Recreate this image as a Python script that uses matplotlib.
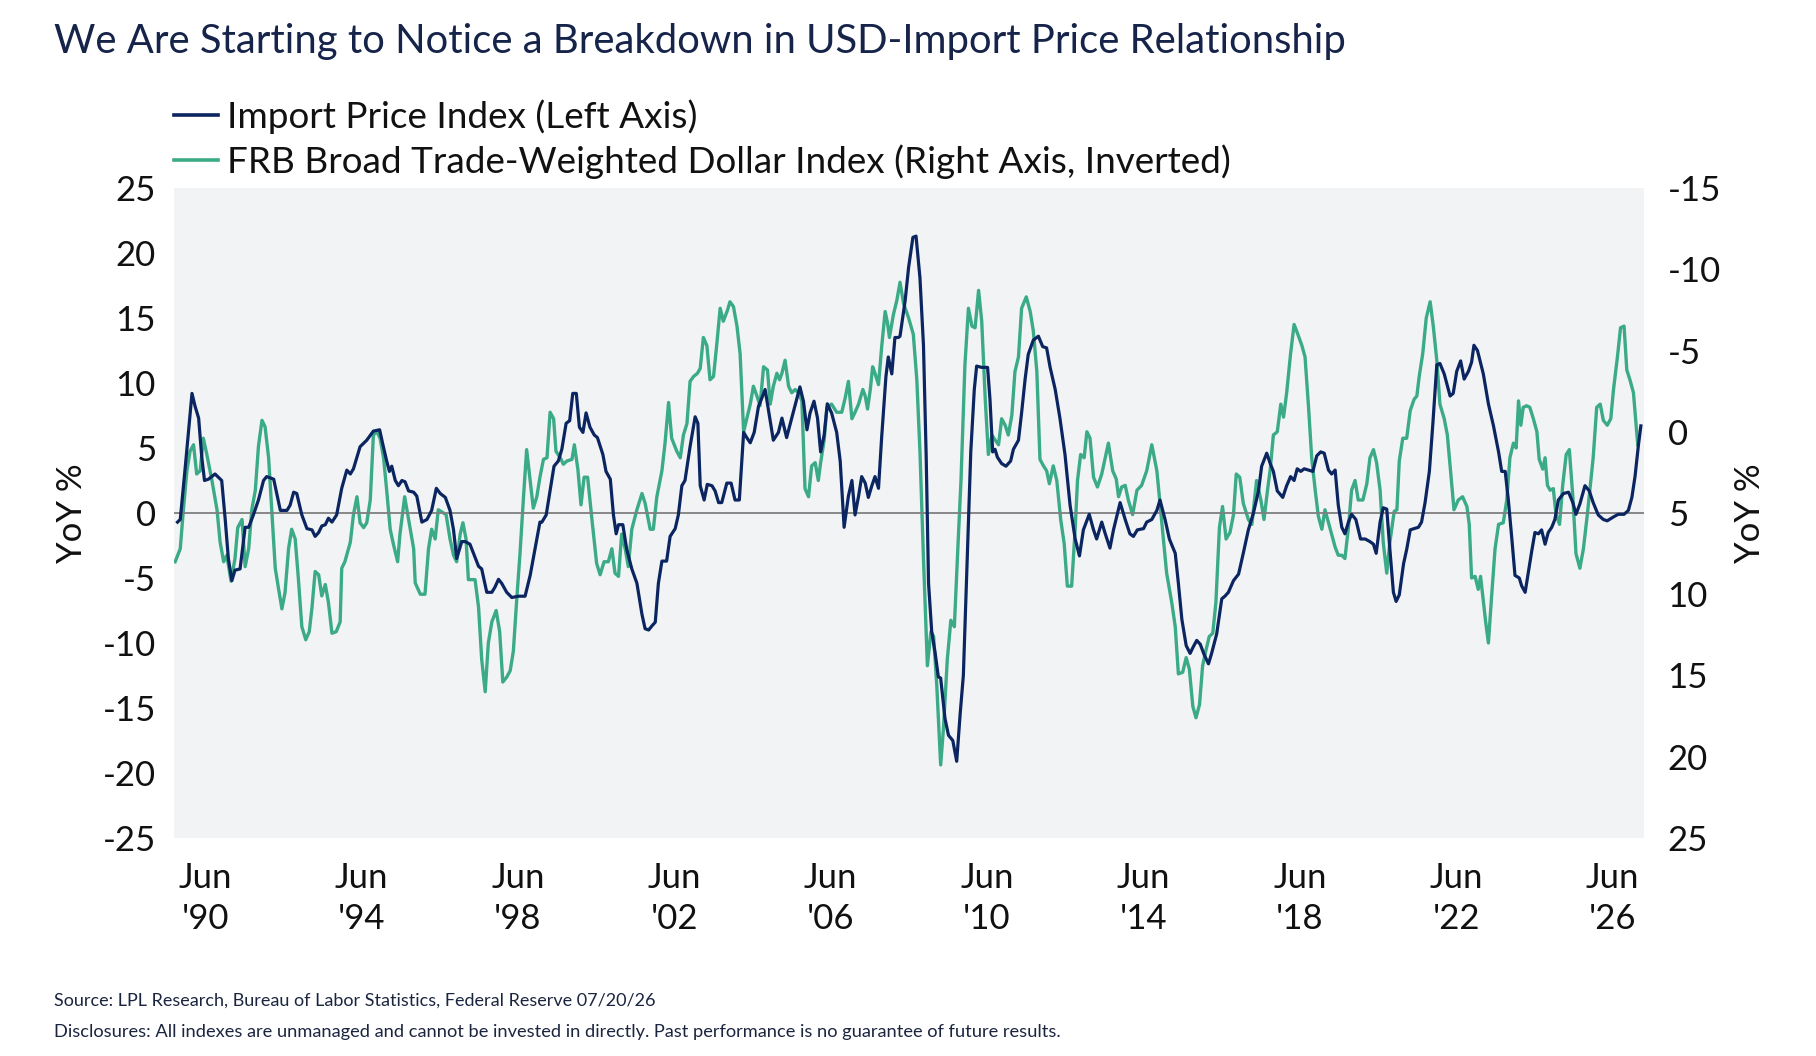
import matplotlib
matplotlib.use("Agg")
import matplotlib.pyplot as plt
from matplotlib.lines import Line2D

# ---------------- data ----------------
ipi_year = [
    1989.71, 1989.78, 1989.91, 1990.08, 1990.16, 1990.25, 1990.33, 1990.40, 1990.50, 1990.67,
    1990.84, 1990.93, 1991.01, 1991.10, 1991.18, 1991.31, 1991.44, 1991.53, 1991.65, 1991.78,
    1991.91, 1991.99, 1992.17, 1992.34, 1992.51, 1992.59, 1992.68, 1992.76, 1992.89, 1993.02,
    1993.15, 1993.23, 1993.32, 1993.40, 1993.49, 1993.57, 1993.66, 1993.78, 1993.91, 1994.04,
    1994.13, 1994.21, 1994.38, 1994.55, 1994.72, 1994.88, 1994.96, 1995.06, 1995.13, 1995.19,
    1995.28, 1995.36, 1995.45, 1995.53, 1995.62, 1995.75, 1995.83, 1995.96, 1996.09, 1996.21,
    1996.33, 1996.43, 1996.56, 1996.68, 1996.77, 1996.85, 1996.98, 1997.07, 1997.19, 1997.28,
    1997.41, 1997.49, 1997.62, 1997.75, 1997.83, 1997.92, 1998.00, 1998.13, 1998.26, 1998.43,
    1998.60, 1998.73, 1998.90, 1998.98,
    1999.03, 1999.14, 1999.24, 1999.34, 1999.45, 1999.54, 1999.65, 1999.74, 1999.82, 1999.91,
    1999.99, 2000.08, 2000.16, 2000.26, 2000.37, 2000.45, 2000.59, 2000.67, 2000.78, 2000.86,
    2000.93, 2000.99, 2001.10, 2001.20, 2001.33, 2001.46, 2001.59, 2001.67, 2001.76, 2001.84,
    2001.93, 2002.01, 2002.10, 2002.22, 2002.31, 2002.44, 2002.52, 2002.61, 2002.69, 2002.82,
    2002.95, 2003.02, 2003.08, 2003.18, 2003.26, 2003.38, 2003.46, 2003.55, 2003.63, 2003.76,
    2003.87, 2003.97, 2004.08, 2004.19, 2004.27, 2004.36, 2004.46, 2004.57, 2004.65, 2004.74,
    2004.80, 2004.88, 2004.95, 2005.08, 2005.17, 2005.29, 2005.42, 2005.55, 2005.63, 2005.72,
    2005.81, 2005.89, 2005.99, 2006.08, 2006.16, 2006.25, 2006.33, 2006.44, 2006.57, 2006.66,
    2006.76, 2006.87, 2006.96, 2007.04, 2007.13, 2007.21, 2007.30, 2007.38, 2007.47, 2007.55,
    2007.64, 2007.72, 2007.83, 2007.89, 2007.98, 2008.06, 2008.15,
    2008.19, 2008.32, 2008.41, 2008.52, 2008.60, 2008.70, 2008.79, 2008.86, 2008.92, 2009.00,
    2009.09, 2009.17, 2009.23, 2009.34, 2009.43, 2009.54, 2009.64, 2009.73, 2009.81, 2009.90,
    2010.00, 2010.09, 2010.15, 2010.28, 2010.43, 2010.49, 2010.56, 2010.62, 2010.68, 2010.79,
    2010.90, 2011.02, 2011.09, 2011.22, 2011.30, 2011.39, 2011.47, 2011.60, 2011.73, 2011.84,
    2011.94, 2012.03, 2012.16, 2012.28, 2012.41, 2012.54, 2012.67, 2012.78, 2012.88, 2013.03,
    2013.14, 2013.22, 2013.35, 2013.44, 2013.56, 2013.65, 2013.73, 2013.82, 2013.95, 2014.07,
    2014.16, 2014.26, 2014.42, 2014.50, 2014.63, 2014.76, 2014.84, 2014.97, 2015.08, 2015.23,
    2015.31, 2015.40, 2015.51, 2015.61, 2015.69, 2015.78, 2015.87, 2015.97, 2016.08, 2016.16,
    2016.29, 2016.42, 2016.50, 2016.59, 2016.72, 2016.85, 2016.97, 2017.10, 2017.23, 2017.36,
    2017.44, 2017.57,
    2017.66, 2017.74, 2017.84, 2017.98, 2018.08, 2018.18, 2018.27, 2018.35, 2018.44, 2018.53,
    2018.64, 2018.75, 2018.85, 2018.95, 2019.04, 2019.15, 2019.23, 2019.32, 2019.40, 2019.49,
    2019.57, 2019.66, 2019.74, 2019.85, 2019.97, 2020.09, 2020.21, 2020.30, 2020.37, 2020.47,
    2020.55, 2020.64, 2020.72, 2020.81, 2020.88, 2020.96, 2021.07, 2021.15, 2021.24, 2021.34,
    2021.45, 2021.53, 2021.62, 2021.73, 2021.82, 2021.92, 2022.00, 2022.11, 2022.26, 2022.34,
    2022.43, 2022.53, 2022.62, 2022.73, 2022.81, 2022.87, 2022.96, 2023.11, 2023.24, 2023.37,
    2023.50, 2023.58, 2023.67, 2023.75, 2023.84, 2023.92, 2024.03, 2024.09, 2024.18, 2024.26,
    2024.35, 2024.43, 2024.52, 2024.60, 2024.69, 2024.77, 2024.86, 2024.94, 2025.03, 2025.16,
    2025.29, 2025.40, 2025.48, 2025.58, 2025.71, 2025.82, 2025.92, 2026.05, 2026.18, 2026.28,
    2026.44, 2026.56, 2026.71, 2026.82, 2026.91, 2026.99, 2027.08, 2027.14,
]
ipi_yoy = [
    -0.7, -0.5, 3.6, 9.2, 8.2, 7.3, 4.3, 2.5, 2.6, 3.0,
    2.5, -0.5, -3.5, -5.2, -4.4, -4.3, -1.1, -1.1, -0.15, 1.0,
    2.5, 2.8, 2.6, 0.2, 0.2, 0.6, 1.6, 1.5, -0.15, -1.2,
    -1.3, -1.8, -1.5, -1.0, -0.9, -0.4, -0.7, -0.15, 1.9, 3.3,
    3.0, 3.4, 5.1, 5.6, 6.3, 6.4, 5.3, 4.0, 3.2, 3.6,
    2.5, 2.1, 2.5, 2.4, 1.7, 1.6, 1.3, -0.7, -0.5, 0.2,
    1.9, 1.5, 1.2, 0.2, -1.3, -3.5, -2.2, -2.2, -2.4, -3.1,
    -4.1, -4.3, -6.1, -6.1, -5.7, -5.1, -5.4, -6.1, -6.5, -6.4,
    -6.4, -4.8, -2.0, -0.7,
    -0.7, -0.15, 1.7, 3.6, 4.0, 4.9, 6.9, 7.1, 9.2, 9.2,
    6.6, 6.2, 7.7, 6.6, 6.0, 5.8, 4.5, 3.2, 2.6, -0.15,
    -1.6, -0.9, -0.9, -2.8, -4.3, -5.4, -7.8, -8.9, -9.0, -8.7,
    -8.4, -5.4, -3.7, -3.7, -1.8, -1.2, -0.15, 2.1, 2.5, 5.1,
    7.4, 6.9, 2.1, 1.0, 2.2, 2.1, 1.7, 0.8, 0.8, 2.3,
    2.3, 1.0, 1.0, 6.2, 5.8, 5.4, 6.2, 8.2, 8.8, 9.5,
    8.4, 6.9, 5.6, 6.2, 7.3, 5.8, 7.3, 8.8, 9.7, 8.6,
    6.4, 7.7, 8.6, 7.3, 4.7, 6.0, 8.4, 7.7, 6.2, 4.0,
    -1.1, 1.3, 2.5, -0.15, 1.3, 2.8, 2.3, 1.2, 2.1, 2.8,
    1.9, 5.8, 10.5, 12.0, 10.7, 13.5, 13.5,
    13.6, 16.3, 18.9, 21.2, 21.3, 18.1, 12.9, 4.3, -5.4, -9.1,
    -10.8, -12.6, -12.7, -15.8, -17.1, -17.5, -19.1, -15.4, -12.5, -4.3,
    4.7, 9.5, 11.3, 11.2, 11.2, 8.8, 4.7, 4.9, 4.3, 3.8,
    3.6, 4.0, 4.9, 5.6, 7.7, 10.3, 12.2, 13.3, 13.6, 12.8,
    12.7, 11.2, 9.5, 7.3, 4.5, 0.6, -2.0, -3.3, -1.3, -0.1,
    -1.3, -2.0, -0.7, -1.6, -2.7, -1.3, -0.3, 0.8, -0.5, -1.6,
    -1.8, -1.3, -1.2, -0.7, -0.5, 0.2, 1.0, -0.5, -2.0, -3.1,
    -5.4, -8.2, -10.2, -10.8, -10.3, -9.8, -10.1, -10.9, -11.6, -10.8,
    -9.3, -6.6, -6.4, -6.1, -5.2, -4.7, -3.1, -1.3, 0.0, 1.7,
    3.6, 4.6,
    3.8, 3.2, 1.7, 1.2, 2.1, 2.8, 2.5, 3.4, 3.2, 3.4,
    3.3, 3.2, 4.4, 4.7, 4.6, 3.3, 3.0, 3.3, 0.6, -1.1,
    -1.6, -0.7, -0.1, -0.5, -2.0, -2.0, -2.2, -2.4, -3.1, -0.7,
    0.4, 0.3, -2.8, -6.1, -6.8, -6.3, -3.9, -2.8, -1.3, -1.2,
    -1.1, -0.7, 0.8, 3.2, 6.9, 11.4, 11.5, 10.7, 9.0, 9.2,
    10.9, 11.7, 10.3, 10.9, 11.6, 12.9, 12.5, 10.7, 8.4, 6.7,
    4.7, 3.2, 3.2, 1.0, -2.0, -4.8, -5.0, -5.6, -6.1, -4.6,
    -2.9, -1.5, -1.6, -1.3, -2.4, -1.5, -1.1, -0.5, 1.0, 1.5,
    1.6, 0.8, -0.1, 0.7, 2.1, 1.7, 0.8, -0.15, -0.5, -0.6,
    -0.3, -0.1, -0.1, 0.2, 1.2, 2.8, 5.3, 6.7,
]

usd_year = [
    1989.65, 1989.78, 1989.86, 1989.95, 1990.03, 1990.12, 1990.20, 1990.29, 1990.37, 1990.46,
    1990.59, 1990.72, 1990.80, 1990.89, 1990.97, 1991.08, 1991.18, 1991.25, 1991.36, 1991.44,
    1991.53, 1991.61, 1991.70, 1991.78, 1991.87, 1991.95, 1992.04, 1992.12, 1992.21, 1992.29,
    1992.38, 1992.46, 1992.55, 1992.63, 1992.72, 1992.80, 1992.89, 1992.99, 1993.08, 1993.15,
    1993.23, 1993.32, 1993.40, 1993.49, 1993.57, 1993.66, 1993.77, 1993.87, 1993.91, 1993.99,
    1994.13, 1994.21, 1994.30, 1994.38, 1994.47, 1994.55, 1994.64, 1994.72, 1994.81, 1994.89,
    1994.98, 1995.06, 1995.15, 1995.23, 1995.34, 1995.40, 1995.52, 1995.62, 1995.75, 1995.79,
    1995.92, 1996.04, 1996.13, 1996.21, 1996.30, 1996.38, 1996.51, 1996.58, 1996.68, 1996.77,
    1996.85, 1996.94, 1997.01, 1997.09, 1997.15, 1997.32, 1997.41, 1997.49, 1997.58, 1997.66,
    1997.75, 1997.86, 1997.95, 1998.03, 1998.13, 1998.22, 1998.30, 1998.39, 1998.47, 1998.56,
    1998.64, 1998.73, 1998.81, 1998.90, 1998.98,
    1999.07, 1999.16, 1999.24, 1999.33, 1999.39, 1999.50, 1999.58, 1999.67, 1999.80, 1999.86,
    1999.95, 2000.03, 2000.11, 2000.20, 2000.31, 2000.43, 2000.52, 2000.62, 2000.73, 2000.82,
    2000.90, 2000.99, 2001.07, 2001.16, 2001.24, 2001.33, 2001.46, 2001.59, 2001.67, 2001.80,
    2001.88, 2001.97, 2002.10, 2002.18, 2002.27, 2002.35, 2002.48, 2002.57, 2002.65, 2002.74,
    2002.82, 2002.91, 2003.01, 2003.08, 2003.16, 2003.25, 2003.33, 2003.42, 2003.50, 2003.59,
    2003.67, 2003.78, 2003.84, 2003.93, 2004.02, 2004.10, 2004.19, 2004.27, 2004.36, 2004.44,
    2004.53, 2004.61, 2004.70, 2004.80, 2004.87, 2004.95, 2005.04, 2005.11, 2005.17, 2005.25,
    2005.34, 2005.42, 2005.51, 2005.59, 2005.68, 2005.76, 2005.85, 2005.93, 2006.02, 2006.10,
    2006.16, 2006.25, 2006.32, 2006.44, 2006.57, 2006.70, 2006.79, 2006.87, 2006.96, 2007.04,
    2007.13, 2007.24, 2007.30, 2007.36, 2007.43, 2007.49, 2007.55, 2007.64, 2007.72, 2007.81,
    2007.87, 2007.92, 2008.02, 2008.11, 2008.19,
    2008.28, 2008.41, 2008.53, 2008.62, 2008.70, 2008.79, 2008.89, 2008.98, 2009.05, 2009.13,
    2009.23, 2009.30, 2009.40, 2009.49, 2009.58, 2009.68, 2009.75, 2009.85, 2009.94, 2010.03,
    2010.11, 2010.20, 2010.28, 2010.37, 2010.45, 2010.54, 2010.62, 2010.71, 2010.79, 2010.88,
    2010.96, 2011.05, 2011.13, 2011.22, 2011.30, 2011.42, 2011.52, 2011.60, 2011.69, 2011.77,
    2011.86, 2011.94, 2012.01, 2012.11, 2012.20, 2012.30, 2012.39, 2012.47, 2012.58, 2012.67,
    2012.73, 2012.81, 2012.90, 2012.97, 2013.05, 2013.14, 2013.24, 2013.35, 2013.52, 2013.63,
    2013.72, 2013.78, 2013.86, 2013.95, 2014.03, 2014.14, 2014.25, 2014.37, 2014.50, 2014.63,
    2014.76, 2014.88, 2015.01, 2015.14, 2015.23, 2015.31, 2015.42, 2015.51, 2015.59, 2015.68,
    2015.76, 2015.85, 2015.93, 2016.02, 2016.10, 2016.19, 2016.27, 2016.36, 2016.44, 2016.53,
    2016.63, 2016.72, 2016.79, 2016.88, 2016.97, 2017.10, 2017.19, 2017.31, 2017.42, 2017.50,
    2017.59,
    2017.66, 2017.74, 2017.84, 2017.93, 2018.00, 2018.08, 2018.18, 2018.27, 2018.35, 2018.47,
    2018.55, 2018.64, 2018.72, 2018.81, 2018.89, 2018.98, 2019.06, 2019.15, 2019.23, 2019.32,
    2019.40, 2019.49, 2019.57, 2019.66, 2019.74, 2019.83, 2019.91, 2020.03, 2020.13, 2020.21,
    2020.30, 2020.38, 2020.47, 2020.55, 2020.64, 2020.72, 2020.83, 2020.90, 2020.96, 2021.05,
    2021.15, 2021.24, 2021.34, 2021.41, 2021.47, 2021.56, 2021.65, 2021.75, 2021.83, 2021.92,
    2022.00, 2022.11, 2022.19, 2022.26, 2022.36, 2022.47, 2022.58, 2022.69, 2022.75, 2022.81,
    2022.90, 2022.98, 2023.04, 2023.11, 2023.17, 2023.24, 2023.32, 2023.41, 2023.50, 2023.62,
    2023.71, 2023.79, 2023.88, 2023.95, 2024.01, 2024.07, 2024.13, 2024.22, 2024.30, 2024.39,
    2024.48, 2024.54, 2024.63, 2024.69, 2024.75, 2024.82, 2024.90, 2024.97, 2025.06, 2025.14,
    2025.23, 2025.31, 2025.40, 2025.48, 2025.58, 2025.67, 2025.77, 2025.86, 2025.92, 2026.01,
    2026.10, 2026.18, 2026.28, 2026.37, 2026.44, 2026.54, 2026.62, 2026.71, 2026.78, 2026.86,
    2026.95, 2027.06,
]
usd_yoy = [
    8.0, 7.2, 4.8, 2.4, 1.2, 0.8, 2.6, 2.4, 0.4, 1.4,
    3.0, 4.8, 6.8, 8.0, 7.6, 9.2, 7.8, 5.9, 5.4, 8.3,
    7.2, 4.8, 3.6, 0.9, -0.7, -0.3, 1.6, 4.8, 8.4, 9.6,
    10.9, 9.9, 7.2, 6.0, 6.6, 9.0, 12.0, 12.8, 12.3, 10.8,
    8.6, 8.8, 10.1, 9.4, 10.5, 12.4, 12.3, 11.7, 8.4, 8.0,
    6.8, 5.1, 4.0, 5.6, 5.9, 5.6, 4.2, 0.2, 0.0, 0.4,
    1.6, 3.6, 6.0, 6.9, 8.0, 6.3, 4.0, 5.4, 7.2, 9.3,
    10.0, 10.0, 7.2, 6.0, 6.6, 4.8, 5.0, 5.1, 6.6, 7.6,
    8.0, 6.3, 5.6, 6.6, 9.1, 9.1, 10.8, 14.0, 16.0, 13.0,
    11.7, 11.0, 12.3, 15.4, 15.1, 14.7, 13.5, 10.2, 7.5, 4.0,
    1.1, 3.0, 4.7, 4.0, 2.8,
    1.7, 1.6, -1.2, -0.8, 1.2, 1.6, 2.0, 1.8, 1.7, 0.8,
    2.3, 4.5, 2.8, 2.8, 5.4, 8.1, 8.8, 8.0, 8.0, 7.2,
    8.7, 8.9, 6.3, 7.2, 8.3, 6.0, 4.8, 3.8, 4.4, 6.0,
    6.0, 4.0, 2.4, 0.7, -1.8, 0.4, 1.2, 1.6, 0.2, -0.5,
    -3.1, -3.4, -3.6, -3.9, -5.8, -5.3, -3.2, -3.4, -5.3, -7.6,
    -6.8, -7.5, -8.0, -7.7, -6.5, -4.8, 0.0, -0.8, -1.7, -2.8,
    -2.2, -1.6, -4.0, -3.8, -1.7, -2.8, -3.6, -3.2, -3.6, -4.4,
    -2.8, -2.4, -2.6, -2.4, -1.9, 3.5, 4.0, 2.1, 1.9, 3.0,
    1.9, 0.5, -1.5, -1.7, -1.2, -1.2, -2.1, -3.1, -0.8, -1.2,
    -1.7, -2.6, -2.2, -1.4, -2.6, -4.0, -3.6, -2.9, -5.2, -7.4,
    -6.7, -5.8, -7.2, -8.1, -9.2,
    -7.9, -7.0, -6.0, -3.2, 1.2, 7.8, 14.4, 12.3, 12.6, 15.6,
    20.5, 18.3, 14.0, 11.6, 12.0, 6.6, 3.0, -4.1, -7.6, -6.5,
    -6.4, -8.7, -6.8, -2.0, 1.4, 0.2, 0.5, 0.8, -0.8, -0.4,
    0.2, -1.0, -3.7, -4.6, -7.6, -8.3, -7.4, -6.2, -3.7, 1.7,
    2.1, 2.4, 3.2, 2.1, 3.0, 5.4, 6.9, 9.5, 9.5, 6.0,
    3.0, 1.4, 1.6, 0.0, 0.4, 2.8, 3.4, 2.6, 0.7, 2.4,
    2.9, 4.0, 3.4, 3.3, 4.2, 5.1, 3.6, 3.3, 2.4, 0.8,
    2.4, 5.4, 8.7, 10.5, 12.0, 14.9, 14.8, 13.9, 14.6, 16.9,
    17.6, 16.8, 14.4, 13.4, 12.6, 12.4, 10.5, 5.9, 4.6, 6.6,
    6.2, 5.1, 2.6, 2.8, 4.4, 5.4, 5.7, 3.0, 4.2, 5.4,
    3.6,
    2.3, 0.2, 0.0, -1.7, -0.9, -2.4, -4.8, -6.6, -6.1, -5.3,
    -4.6, -1.5, 1.6, 3.6, 5.2, 6.0, 4.8, 5.6, 6.3, 7.1,
    7.6, 7.6, 7.8, 5.9, 3.6, 3.0, 4.2, 4.2, 3.2, 1.6,
    1.1, 1.9, 3.6, 6.8, 8.7, 6.8, 4.9, 4.8, 1.8, 0.4,
    0.4, -1.3, -2.0, -2.2, -3.4, -4.8, -7.0, -8.0, -6.5, -4.4,
    -1.7, -0.8, 0.2, 2.1, 4.8, 4.2, 4.0, 4.6, 5.7, 9.0,
    8.9, 9.7, 8.9, 10.4, 11.7, 13.0, 10.2, 7.2, 5.7, 5.6,
    4.2, 1.6, 0.7, 1.0, -1.9, -0.4, -1.5, -1.6, -1.5, -0.8,
    0.0, 1.7, 2.3, 1.6, 3.3, 3.6, 3.5, 5.1, 5.7, 3.3,
    1.4, 1.1, 4.0, 7.5, 8.4, 7.2, 5.1, 3.0, 1.6, -1.5,
    -1.7, -0.7, -0.4, -0.8, -2.6, -4.6, -6.4, -6.5, -3.8, -3.2,
    -2.4, 0.8,
]

assert len(ipi_year) == len(ipi_yoy), (len(ipi_year), len(ipi_yoy))
assert len(usd_year) == len(usd_yoy), (len(usd_year), len(usd_yoy))

tick_years = [1990, 1994, 1998, 2002, 2006, 2010, 2014, 2018, 2022, 2026]
tick_labels = ["Jun\n'90", "Jun\n'94", "Jun\n'98", "Jun\n'02", "Jun\n'06",
               "Jun\n'10", "Jun\n'14", "Jun\n'18", "Jun\n'22", "Jun\n'26"]
left_ticks = [25, 20, 15, 10, 5, 0, -5, -10, -15, -20, -25]
right_ticks = [-15, -10, -5, 0, 5, 10, 15, 20, 25]

title = "We Are Starting to Notice a Breakdown in USD-Import Price Relationship"
label_ipi = "Import Price Index (Left Axis)"
label_usd = "FRB Broad Trade-Weighted Dollar Index (Right Axis, Inverted)"
source = "Source: LPL Research, Bureau of Labor Statistics, Federal Reserve 07/20/26"
disclosure = ("Disclosures: All indexes are unmanaged and cannot be invested in directly. "
              "Past performance is no guarantee of future results.")

# ---------------- style ----------------
FONT = ["Lato", "DejaVu Sans"]
plt.rcParams["font.family"] = FONT
NAVY = "#0B2560"
GREEN = "#3BAA87"
TXT = "#111111"
TITLE_C = "#16244A"
BG = "#F2F3F5"

W, H = 1816, 1056
fig = plt.figure(figsize=(W / 100, H / 100), dpi=100)
fig.patch.set_facecolor("white")

L, R, T, B = 174, 1644, 188, 838
ax2 = fig.add_axes([L / W, 1 - B / H, (R - L) / W, (B - T) / H])
ax = ax2.twinx()  # left axis drawn on top
ax2.patch.set_facecolor(BG)
ax.patch.set_visible(False)

ax.yaxis.tick_left()
ax.yaxis.set_label_position("left")
ax2.yaxis.tick_right()
ax2.yaxis.set_label_position("right")

ax2.plot(usd_year, usd_yoy, color=GREEN, lw=2.4, solid_joinstyle="round", zorder=3)
ax.axhline(0, color="#7f7f7f", lw=1.3, zorder=1)
ax.plot(ipi_year, ipi_yoy, color=NAVY, lw=2.3, solid_joinstyle="round", zorder=3)

xmin, xmax = 1989.62, 2027.22
for a in (ax, ax2):
    a.set_xlim(xmin, xmax)
    for s in a.spines.values():
        s.set_visible(False)

ax.set_ylim(-25, 25)
ax2.set_ylim(25, -15)

TICK_FS = 25
ax.set_yticks(left_ticks)
ax.set_yticklabels([str(v) for v in left_ticks])
ax.tick_params(axis="y", length=0, pad=13, labelsize=TICK_FS, labelcolor=TXT,
               left=True, right=False, labelleft=True, labelright=False)
ax2.set_yticks(right_ticks)
ax2.set_yticklabels([str(v) for v in right_ticks])
ax2.tick_params(axis="y", length=0, pad=17, labelsize=TICK_FS, labelcolor=TXT,
                left=False, right=True, labelleft=False, labelright=True)

ax2.set_xticks([y + 5 / 12 for y in tick_years])
ax2.set_xticklabels(tick_labels, linespacing=1.38)
ax2.tick_params(axis="x", length=0, pad=17, labelsize=TICK_FS, labelcolor=TXT)
ax.tick_params(axis="x", bottom=False, labelbottom=False)
for lab in ax2.get_xticklabels():
    lab.set_ha("center")

fig.text(72 / W, 1 - 513 / H, "YoY %", rotation=90, ha="center", va="center",
         fontsize=TICK_FS, color=TXT)
fig.text(1750 / W, 1 - 513 / H, "YoY %", rotation=90, ha="center", va="center",
         fontsize=TICK_FS, color=TXT)

renderer = fig.canvas.get_renderer()


def fit(t, target_px):
    w = t.get_window_extent(renderer).width
    t.set_fontsize(t.get_fontsize() * target_px / w)


t_title = fig.text(54 / W, 1 - 42 / H, title, ha="left", va="center",
                   fontsize=28, color=TITLE_C)
fit(t_title, 1292)

t_src = fig.text(54 / W, 1 - 1001 / H, source, ha="left", va="center",
                 fontsize=12, color="#1B2540")
fit(t_src, 598)
t_dis = fig.text(54 / W, 1 - 1032 / H, disclosure, ha="left", va="center",
                 fontsize=12, color="#1B2540")
fit(t_dis, 1007)

probe = fig.text(0, 0, label_usd, fontsize=20)
leg_fs = 20 * 1004 / probe.get_window_extent(renderer).width
probe.remove()

handles = [Line2D([], [], color=NAVY, lw=2.6), Line2D([], [], color=GREEN, lw=2.6)]
fig.legend(handles, [label_ipi, label_usd], loc="upper left",
           bbox_to_anchor=(174 / W, 1 - 99 / H), frameon=False,
           fontsize=leg_fs, handlelength=1.2, handletextpad=0.25,
           labelspacing=0.28, borderpad=0, borderaxespad=0,
           labelcolor=TXT)

fig.savefig("out.png", dpi=100, facecolor="white")
